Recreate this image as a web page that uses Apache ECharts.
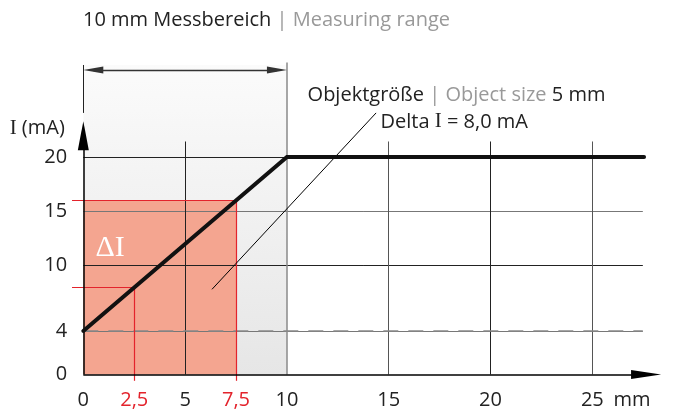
<!DOCTYPE html>
<html><head><meta charset="utf-8">
<script src="https://cdn.jsdelivr.net/npm/echarts@6/dist/echarts.min.js"></script>
<style>html,body{margin:0;padding:0;background:#fff}#c{width:675px;height:410px}</style>
</head><body><div id="c"></div>
<script>
// ---- data ----
const xTicks = [0, 2.5, 5, 7.5, 10, 15, 20, 25];
const redTicks = [2.5, 7.5];
const yTicks = [0, 4, 10, 15, 20];
const xGrid = [5, 15, 20, 25];
const yGrid = [4, 10, 15, 20];
const curveMm = [0, 10, 27.54];
const curveMa = [4, 20, 20];
const objectMm = [2.5, 7.5];
const deltaMa = [8, 16];
const rangeMm = [0, 10];
const baseMa = 4;

// ---- scale extents ----
const X_MIN = -0.6, X_MAX = 28.5, Y_MIN = -0.7, Y_MAX = 28.8;
const FONT = 'Open Sans';
const SERIF = 'Liberation Serif';
const DARK = '#222', GREY = '#999', RED = '#e3232c';

function seg(a, b, style, s0, s1) {
  const ls = Object.assign({ width: 1, type: 'solid', color: DARK, opacity: 1 }, style);
  const p0 = { coord: a, lineStyle: ls, symbol: 'none' };
  const p1 = { coord: b, lineStyle: ls, symbol: 'none' };
  if (s0) { p0.symbol = s0.symbol; p0.symbolSize = s0.size; }
  if (s1) { p1.symbol = s1.symbol; p1.symbolSize = s1.size; }
  return [p0, p1];
}

const gridTopX = 27.48, vGridTop = 21.43;
const yGridColor = { 4: '#777', 10: '#222', 15: '#777', 20: '#222' };
const xGridColor = { 5: '#222', 15: '#555', 20: '#222', 25: '#555' };

const lines = [];
yGrid.forEach(v => lines.push(seg([0, v], [gridTopX, v], { color: yGridColor[v] })));
xGrid.forEach(v => lines.push(seg([v, 0], [v, vGridTop], { color: xGridColor[v] })));
// measuring range box edges
lines.push(seg([rangeMm[1], 0], [rangeMm[1], 28.7], { color: '#8a8a8a', width: 1.5 }));
lines.push(seg([rangeMm[0], 24.06], [rangeMm[0], 28.47], { color: DARK, width: 1 }));
// double arrow
lines.push(seg([rangeMm[0] + 0.49, 28.0], [rangeMm[1] - 0.49, 28.0], { color: '#333', width: 1.3 },
  { symbol: 'triangle', size: [7, 20] }, { symbol: 'triangle', size: [7, 20] }));
// dashed base line
lines.push(seg([0, baseMa], [gridTopX, baseMa], { color: '#888', width: 1.5, type: [15, 10] }));
// red construction lines
lines.push(seg([-0.555, deltaMa[1]], [objectMm[1], deltaMa[1]], { color: RED, width: 1.2 }));
lines.push(seg([-0.555, deltaMa[0]], [objectMm[0], deltaMa[0]], { color: RED, width: 1.2 }));
lines.push(seg([objectMm[0], deltaMa[0]], [objectMm[0], -0.59], { color: RED, width: 1.2 }));
lines.push(seg([objectMm[1], deltaMa[1]], [objectMm[1], -0.59], { color: RED, width: 1.2 }));
// axes with arrows
lines.push(seg([0, 0], [0, 21.95], { color: '#000', width: 1.5 }, null, { symbol: 'triangle', size: [11, 29] }));
lines.push(seg([0, 0], [27.64, 0], { color: '#000', width: 1.5 }, null, { symbol: 'triangle', size: [9, 30] }));
// pointer line
lines.push(seg([6.32, 7.83], [14.38, 24.06], { color: '#000', width: 1 }));

const gradient = { type: 'linear', x: 0, y: 0, x2: 0, y2: 1,
  colorStops: [{ offset: 0, color: '#fbfbfb' }, { offset: 1, color: '#e6e6e6' }] };

function txt(coord, formatter, style, pos, dist) {
  return { coord: coord, symbol: 'circle', symbolSize: 1, itemStyle: { color: 'rgba(0,0,0,0)' },
    label: Object.assign({ show: true, position: pos || 'right', distance: dist || 0, formatter: formatter,
      fontFamily: FONT, fontSize: 20, color: DARK, fontWeight: 'normal' }, style) };
}
const rich = {
  a: { fontFamily: FONT, fontSize: 20, color: DARK, fontWeight: 'normal' },
  b: { fontFamily: FONT, fontSize: 20, color: GREY, fontWeight: 'normal' },
  s: { fontFamily: SERIF, fontSize: 21, color: DARK, fontWeight: 'normal' }
};

const fmt = v => String(v).replace('.', ',');

const option = {
  animation: false,
  textStyle: { fontFamily: FONT, fontWeight: 'normal' },
  title: {
    text: '{a|10 mm Messbereich} {b|| Measuring range}',
    left: 83, top: 8, padding: 0,
    textStyle: { fontWeight: 'normal', fontSize: 20, fontFamily: FONT,
      rich: { a: Object.assign({ lineHeight: 24 }, rich.a), b: Object.assign({ lineHeight: 24 }, rich.b) } }
  },
  grid: { left: 71.1, right: 11.4, top: 61.4, bottom: 27.1 },
  xAxis: {
    type: 'value', min: X_MIN, max: X_MAX,
    axisLine: { show: false, onZero: false }, axisTick: { show: false }, splitLine: { show: false },
    axisLabel: { customValues: xTicks, formatter: fmt, fontSize: 20, fontFamily: FONT, margin: 8,
      color: (v) => redTicks.indexOf(Number(v)) >= 0 ? RED : DARK },
    name: 'mm', nameLocation: 'end', nameGap: -13,
    nameTextStyle: { fontFamily: FONT, fontSize: 20, color: DARK, align: 'right', verticalAlign: 'top', padding: [8, 0, 0, 0] }
  },
  yAxis: {
    type: 'value', min: Y_MIN, max: Y_MAX,
    axisLine: { show: false, onZero: false }, axisTick: { show: false }, splitLine: { show: false },
    axisLabel: { customValues: yTicks, fontSize: 20, fontFamily: FONT, color: DARK, margin: 4 }
  },
  series: [
    { type: 'line', data: [], silent: true, clip: false,
      markArea: { silent: true, data: [
        [{ coord: [rangeMm[0], 0], itemStyle: { color: gradient } }, { coord: [rangeMm[1], 28.47] }],
        [{ coord: [0, 0], itemStyle: { color: '#f4a590' } }, { coord: [objectMm[1], deltaMa[1]] }]
      ] } },
    { type: 'line', data: [], silent: true, clip: false,
      markLine: { silent: true, symbol: 'none', label: { show: false }, emphasis: { disabled: true }, animation: false, data: lines } },
    { type: 'line', z: 10, silent: true, clip: false, symbol: 'none', showSymbol: false,
      data: curveMm.map((x, i) => [x, curveMa[i]]),
      lineStyle: { color: '#111', width: 4, cap: 'round', join: 'miter' } },
    { type: 'line', data: [], silent: true, clip: false,
      markPoint: { silent: true, animation: false, data: [
        txt([0.57, 11.59], '\u0394I', { fontFamily: SERIF, fontSize: 30, color: '#fff' }),
        txt([10.99, 25.72], '{a|Objektgr\u00f6\u00dfe} {b|| Object size} {a|5 mm}', { rich: rich }),
        txt([14.57, 23.24], '{a|Delta }{s|I}{a| = 8,0 mA}', { rich: rich }),
        txt([0, 22.6], '{s|I}{a| (mA)}', { rich: rich }, 'left', 18)
      ] } }
  ]
};
const chart = echarts.init(document.getElementById('c'), null, { renderer: 'canvas' });
chart.setOption(option);
</script></body></html>
